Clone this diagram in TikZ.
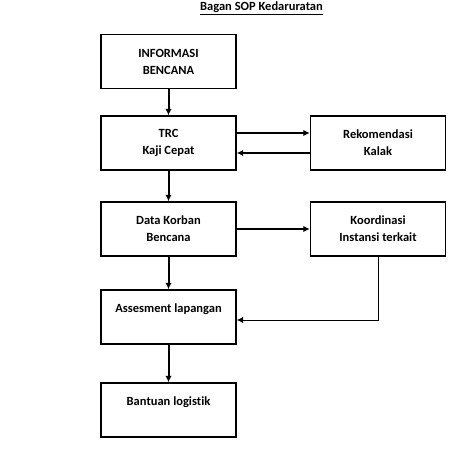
\documentclass[tikz,border=0pt]{standalone}
\usepackage{fontspec}
\setmainfont[Ligatures=NoCommon]{Carlito}
\usetikzlibrary{arrows.meta}

\begin{document}
\begin{tikzpicture}[x=1pt,y=-1pt,
		every node/.style={font=\bfseries\fontsize{12.5}{17}\selectfont},
		box/.style={draw, line width=1.4pt, minimum width=135pt, minimum height=54pt, inner sep=0pt, align=center},
		flow/.style={-{Latex[length=6.5pt,width=6.5pt]}, line width=2pt},
		thinflow/.style={-{Latex[length=6.5pt,width=6.5pt]}, line width=1pt}]
				\useasboundingbox (0,0) rectangle (474,457);

				% Title
				\node (title) at (261.5,8) {\underline{Bagan SOP Kedaruratan}};

				% Boxes
				\node[box] (info) at (168.5,61.5) {INFORMASI\\BENCANA};
				\node[box] (trc) at (168.5,143) {TRC\\Kaji Cepat};
				\node[box] (rek) at (378,143) {Rekomendasi\\Kalak};
				\node[box] (data) at (168.5,229) {Data Korban\\Bencana};
				\node[box] (koord) at (378,229) {Koordinasi\\Instansi terkait};
				\node[box] (ases) at (168.5,317) {Assesment lapangan\\~};
				\node[box] (bantu) at (168.5,410) {Bantuan logistik\\~};

				% Arrows
				\draw[flow] (info) -- (trc);
				\draw[flow] ([yshift=10pt]trc.east) -- ([yshift=10pt]rek.west);
				\draw[flow] ([yshift=-10pt]rek.west) -- ([yshift=-10pt]trc.east);
				\draw[flow] (trc) -- (data);
				\draw[flow] (data) -- (koord);
				\draw[flow] (data) -- (ases);
				\draw[thinflow] (koord.south) |- ([yshift=-3pt]ases.east);
				\draw[flow] (ases) -- (bantu);
			\end{tikzpicture}
\end{document}
